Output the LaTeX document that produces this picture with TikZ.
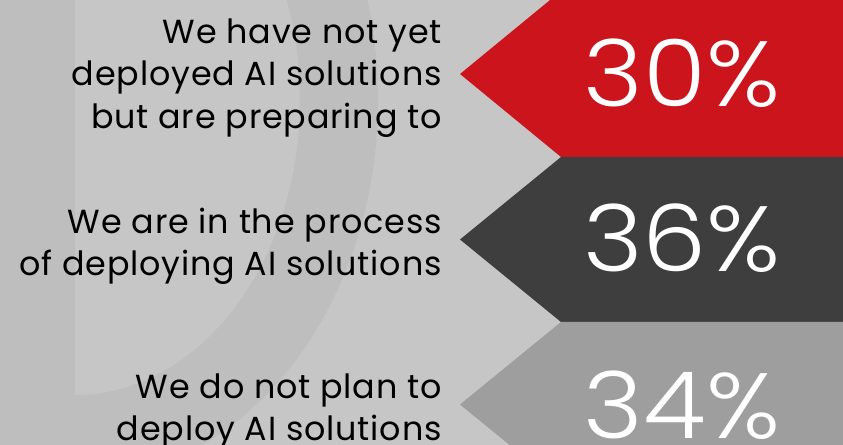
\documentclass[tikz,border=0pt]{standalone}
\usepackage{fontspec}
\setmainfont{Poppins}[LetterSpace=2.5]
\newfontfamily\fuenteligera{Poppins}[UprightFont={* Light}, FakeStretch=1.1]
\usetikzlibrary{positioning}
\definecolor{fondo}{HTML}{C6C6C6}
\definecolor{letrad}{HTML}{BEBEBE}
\definecolor{rojo}{HTML}{CC141D}
\definecolor{oscuro}{HTML}{3E3E3E}
\definecolor{medio}{HTML}{9E9E9E}
\tikzset{
    etiqueta/.style={anchor=east, align=right, text=black, inner sep=0pt,
        font=\fontsize{33.5}{42.5}\selectfont},
    cifra/.style={anchor=base, text=white, inner sep=0pt,
        font=\fuenteligera\fontsize{93}{93}\selectfont}}

\begin{document}
\begin{tikzpicture}[x=1bp, y=-1bp]
    \clip (0,0) rectangle (843,445);
    \fill[fondo] (0,0) rectangle (843,445);
    % la D del fondo
    \fill[letrad] (0,0) rectangle (75,445);
    \begin{scope}
        \clip (75,0) rectangle (843,445);
        \fill[letrad, even odd rule] (75,100) ellipse [x radius=303, y radius=380]
            (75,100) ellipse [x radius=225, y radius=295];
    \end{scope}
    % bandas
    \fill[rojo] (561,-9) -- (843,-9) -- (843,157) -- (561,157) -- (460,74) -- cycle;
    \fill[oscuro] (561,157) -- (843,157) -- (843,322) -- (561,322) -- (460,239.5) -- cycle;
    \fill[medio] (561,322) -- (843,322) -- (843,487) -- (561,487) -- (460,404.5) -- cycle;
    % cifras
    \node[cifra] (c30) at (682,107) {30\%};
    \node[cifra] (c36) at (682,272) {36\%};
    \node[cifra] (c34) at (682,438) {34\%};
    % textos
    \node[etiqueta] (e30) at (442,78) {We have not yet\\deployed AI solutions\\but are preparing to};
    \node[etiqueta] (e36) at (442,246) {We are in the process\\of deploying AI solutions};
    \node[etiqueta] (e34) at (442,411.5) {We do not plan to\\deploy AI solutions};
\end{tikzpicture}
\end{document}
